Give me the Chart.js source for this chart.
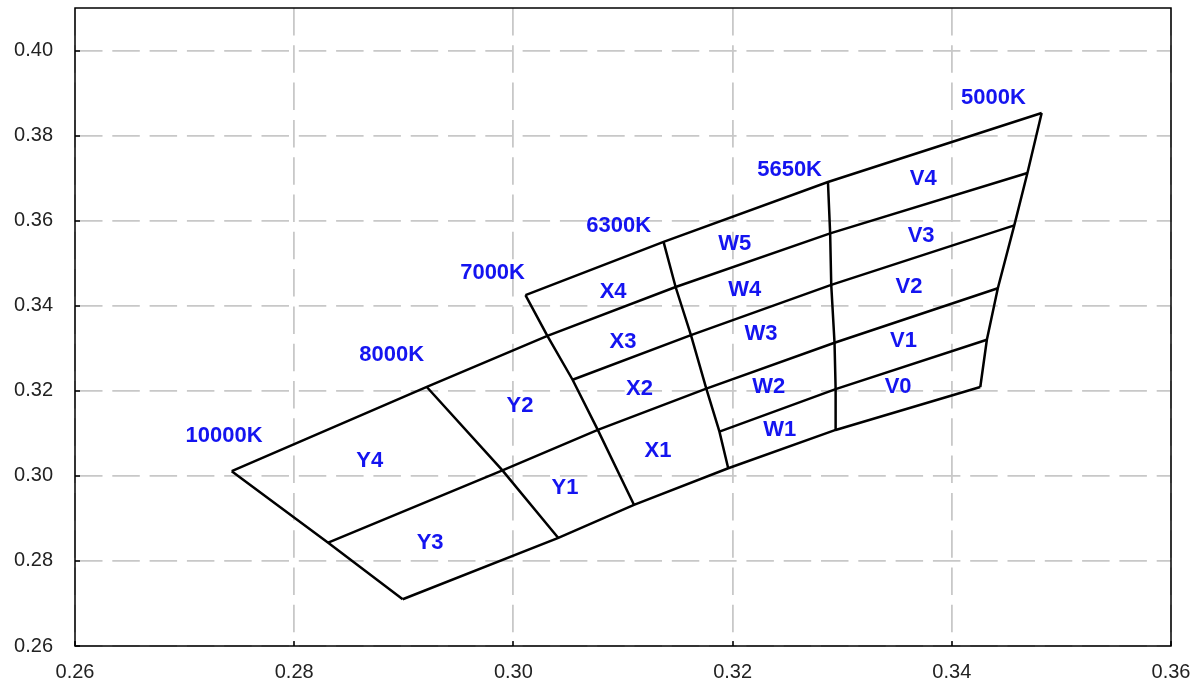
<!DOCTYPE html>
<html>
<head>
<meta charset="utf-8">
<script src="https://cdn.jsdelivr.net/npm/chart.js@4.4.1/dist/chart.umd.min.js"></script>
<style>
  html, body { margin: 0; padding: 0; background: #fff; }
  #wrap { width: 1202px; height: 689px; }
</style>
</head>
<body>
<div id="wrap"><canvas id="binChart"></canvas></div>
<script>
// tick values
const xTicks = [0.26, 0.28, 0.30, 0.32, 0.34, 0.36];
const yTicks = [0.26, 0.28, 0.30, 0.32, 0.34, 0.36, 0.38, 0.40];

// CCT boundary lines (x, y chromaticity)
const iso10000K = [[0.2743, 0.3011], [0.2831, 0.2843], [0.2899, 0.2710]];
const iso8000K = [[0.2921, 0.3209], [0.2990, 0.3013], [0.3041, 0.2854]];
const iso7000K = [[0.3011, 0.3425], [0.3031, 0.3329], [0.3054, 0.3226], [0.3077, 0.3108], [0.3110, 0.2932]];
const iso6300K = [[0.3137, 0.3550], [0.3148, 0.3444], [0.3162, 0.3331], [0.3176, 0.3205], [0.3188, 0.3104], [0.3196, 0.3018]];
const iso5650K = [[0.3287, 0.3691], [0.3289, 0.3570], [0.3290, 0.3449], [0.3293, 0.3313], [0.3294, 0.3204], [0.3294, 0.3108]];
const iso5000K = [[0.3482, 0.3853], [0.3469, 0.3712], [0.3457, 0.3589], [0.3442, 0.3441], [0.3432, 0.3320], [0.3426, 0.3209]];

// bin rows, top to bottom
const edgeTop = [[0.3011, 0.3425], [0.3137, 0.3550], [0.3287, 0.3691], [0.3482, 0.3853]];
const edge4 = [[0.2743, 0.3011], [0.2921, 0.3209], [0.3031, 0.3329], [0.3148, 0.3444], [0.3289, 0.3570], [0.3469, 0.3712]];
const edge3 = [[0.3054, 0.3226], [0.3162, 0.3331], [0.3290, 0.3449], [0.3457, 0.3589]];
const edge2 = [[0.2831, 0.2843], [0.2990, 0.3013], [0.3077, 0.3108], [0.3176, 0.3205], [0.3293, 0.3313], [0.3442, 0.3441]];
const edge1 = [[0.3188, 0.3104], [0.3294, 0.3204], [0.3432, 0.3320]];
const edgeBottom = [[0.2899, 0.2710], [0.3041, 0.2854], [0.3110, 0.2932], [0.3196, 0.3018], [0.3294, 0.3108], [0.3426, 0.3209]];

// labels
const binNames = ['10000K', '8000K', '7000K', '6300K', '5650K', '5000K',
  'Y4', 'Y3', 'Y2', 'Y1', 'X4', 'X3', 'X2', 'X1',
  'W5', 'W4', 'W3', 'W2', 'W1', 'V4', 'V3', 'V2', 'V1', 'V0'];
const binX = [0.2736, 0.2889, 0.2981, 0.3096, 0.3252, 0.3438,
  0.2869, 0.2924, 0.3006, 0.3047, 0.3091, 0.3100, 0.3115, 0.3132,
  0.3202, 0.3211, 0.3226, 0.3233, 0.3243, 0.3374, 0.3372, 0.3361, 0.3356, 0.3351];
const binY = [0.3094, 0.3284, 0.3477, 0.3587, 0.3720, 0.3888,
  0.3036, 0.2843, 0.3165, 0.2972, 0.3433, 0.3316, 0.3204, 0.3058,
  0.3545, 0.3438, 0.3334, 0.3209, 0.3108, 0.3697, 0.3564, 0.3445, 0.3318, 0.3209];

const allLines = [iso10000K, iso8000K, iso7000K, iso6300K, iso5650K, iso5000K,
  edgeTop, edge4, edge3, edge2, edge1, edgeBottom];

const datasets = allLines.map(pts => ({
  data: pts.map(p => ({ x: p[0], y: p[1] })),
  showLine: true,
  borderColor: '#000',
  borderWidth: 2.5,
  pointRadius: 0,
  pointHoverRadius: 0,
  fill: false
}));

// frame, inward ticks and bin labels
const extras = {
  id: 'extras',
  afterDatasetsDraw(chart) {
    const { ctx, chartArea: a, scales } = chart;
    ctx.save();
    ctx.strokeStyle = '#000';
    ctx.lineWidth = 1.5;
    ctx.strokeRect(a.left, a.top, a.right - a.left, a.bottom - a.top);
    ctx.lineWidth = 1.5;
    ctx.beginPath();
    xTicks.forEach(v => {
      const px = Math.round(scales.x.getPixelForValue(v));
      ctx.moveTo(px, a.bottom);
      ctx.lineTo(px, a.bottom - 5);
    });
    yTicks.forEach(v => {
      const py = Math.round(scales.y.getPixelForValue(v));
      ctx.moveTo(a.left, py);
      ctx.lineTo(a.left + 5, py);
    });
    ctx.stroke();

    ctx.fillStyle = '#1414f0';
    ctx.font = 'bold 22px "Liberation Sans", Arial, sans-serif';
    ctx.textAlign = 'center';
    ctx.textBaseline = 'middle';
    binNames.forEach((name, i) => {
      ctx.fillText(name, scales.x.getPixelForValue(binX[i]), scales.y.getPixelForValue(binY[i]));
    });
    ctx.restore();
  }
};

const ctxBins = document.getElementById('binChart').getContext('2d');
const binChart = new Chart(ctxBins, {
  type: 'scatter',
  data: { datasets: datasets },
  options: {
    responsive: true,
    maintainAspectRatio: false,
    animation: false,
    layout: { padding: { top: 8, right: 31, left: 0, bottom: 0 } },
    plugins: {
      legend: { display: false },
      tooltip: { enabled: false }
    },
    scales: {
      x: {
        type: 'linear',
        min: 0.26,
        max: 0.36,
        afterBuildTicks: s => { s.ticks = xTicks.map(v => ({ value: v })); },
        afterFit: s => { s.height = 43; s.paddingLeft = 0; s.paddingRight = 0; },
        grid: { color: '#c8c8c8', lineWidth: 1.8, drawTicks: false },
        border: { display: false, dash: [27.5, 9.8] },
        ticks: {
          padding: 14,
          color: '#222',
          font: { family: '"Liberation Sans", Arial, sans-serif', size: 20 },
          callback: v => v.toFixed(2),
          maxRotation: 0
        }
      },
      y: {
        type: 'linear',
        min: 0.26,
        max: 0.41,
        afterBuildTicks: s => { s.ticks = yTicks.map(v => ({ value: v })); },
        afterFit: s => { s.width = 75; s.paddingTop = 0; s.paddingBottom = 0; },
        grid: { color: '#c8c8c8', lineWidth: 1.8, drawTicks: false },
        border: { display: false, dash: [27.5, 9.8] },
        ticks: {
          padding: 22,
          color: '#222',
          font: { family: '"Liberation Sans", Arial, sans-serif', size: 20 },
          callback: v => v.toFixed(2)
        }
      }
    }
  },
  plugins: [extras]
});
</script>
</body>
</html>
